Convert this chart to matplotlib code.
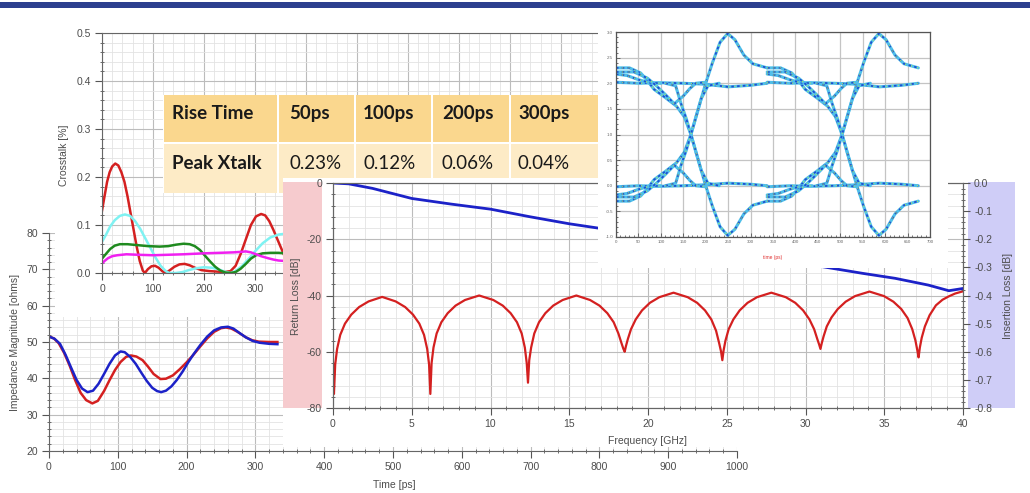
import matplotlib
matplotlib.use("Agg")
import matplotlib.pyplot as plt
from matplotlib.patches import Rectangle
from matplotlib.ticker import MultipleLocator, FormatStrFormatter

W, H = 1030, 493

# ---- crosstalk [%] vs time [ps], one curve per rise time ----
xt_red_t = [0, 5, 10, 15, 20, 26, 32, 38, 44, 50, 56, 62, 68, 74, 80, 84, 90, 97, 104, 111, 118, 124,
            132, 142, 152, 162, 172, 182, 195, 210, 225, 240, 252, 262, 272, 282, 292, 302, 312, 320,
            328, 336, 346, 356]
xt_red_v = [0.13, 0.16, 0.19, 0.21, 0.222, 0.228, 0.224, 0.21, 0.19, 0.16, 0.125, 0.09, 0.055, 0.025,
            0.005, 0.0, 0.008, 0.014, 0.015, 0.011, 0.004, 0.0, 0.005, 0.013, 0.018, 0.019, 0.016, 0.011,
            0.006, 0.004, 0.003, 0.002, 0.004, 0.015, 0.04, 0.07, 0.1, 0.118, 0.123, 0.12, 0.108, 0.09,
            0.065, 0.04]
xt_cyan_t = [0, 8, 16, 25, 35, 45, 55, 65, 75, 85, 95, 105, 115, 125, 132, 145, 158, 170, 185, 200,
             215, 228, 240, 252, 262, 275, 288, 300, 315, 330, 346, 360]
xt_cyan_v = [0.065, 0.08, 0.097, 0.11, 0.119, 0.122, 0.119, 0.108, 0.092, 0.072, 0.052, 0.032, 0.015,
             0.004, 0.0, 0.0, 0.002, 0.006, 0.01, 0.012, 0.011, 0.008, 0.003, 0.0, 0.004, 0.015, 0.03,
             0.045, 0.062, 0.074, 0.08, 0.082]
xt_green_t = [0, 8, 16, 25, 35, 50, 70, 90, 113, 130, 145, 160, 172, 182, 192, 202, 212, 222, 232, 242,
              252, 262, 272, 282, 292, 302, 315, 330, 346, 360]
xt_green_v = [0.03, 0.04, 0.05, 0.057, 0.06, 0.06, 0.058, 0.056, 0.055, 0.056, 0.059, 0.061, 0.06, 0.056,
              0.048, 0.036, 0.024, 0.013, 0.005, 0.001, 0.0, 0.002, 0.009, 0.019, 0.03, 0.037, 0.041,
              0.042, 0.042, 0.041]
xt_mag_t = [0, 6, 12, 20, 30, 48, 70, 100, 130, 160, 200, 230, 258, 272, 282, 292, 302, 312, 325, 336,
            346, 360]
xt_mag_v = [0.02, 0.026, 0.031, 0.035, 0.037, 0.039, 0.038, 0.037, 0.038, 0.039, 0.041, 0.042, 0.043,
            0.044, 0.045, 0.043, 0.039, 0.035, 0.031, 0.028, 0.026, 0.025]

# ---- impedance [ohms] vs time [ps] ----
z_red_t = [0, 7, 14, 22, 30, 38, 46, 54, 63, 71, 80, 88, 96, 104, 112, 119, 127, 136, 144, 152, 162,
           170, 180, 190, 200, 210, 220, 230, 240, 250, 257, 265, 274, 286, 295, 305, 320, 332]
z_red_v = [51.5, 51, 49.7, 47, 43.5, 39.5, 36, 34, 33.1, 33.8, 36.5, 39.5, 42.3, 44.5, 45.9, 46.3, 46,
           45, 43.2, 41.2, 39.8, 39.9, 40.8, 42.5, 44.4, 46.5, 48.8, 51, 52.8, 53.8, 54, 53.7, 52.8,
           51.3, 50.5, 50.1, 50.0, 50.0]
z_blue_t = [0, 8, 16, 24, 32, 40, 48, 56, 64, 72, 80, 88, 96, 104, 110, 118, 126, 134, 142, 150, 157,
            163, 170, 178, 186, 194, 202, 210, 220, 230, 240, 250, 260, 268, 276, 286, 296, 306, 320, 332]
z_blue_v = [51.5, 50.9, 49.5, 46.5, 43, 39.6, 37.2, 36.2, 36.6, 38.5, 41.2, 44, 46.3, 47.4, 47.2, 45.9,
            44, 41.6, 39.3, 37.4, 36.5, 36.2, 36.6, 37.8, 39.6, 41.8, 44.3, 46.6, 49.2, 51.5, 53.2, 54.0,
            54.2, 53.7, 52.6, 51.3, 50.3, 49.8, 49.5, 49.4]

# ---- return loss [dB] / insertion loss [dB] vs frequency [GHz] ----
rl_f = [0.0, 0.06, 0.14, 0.26, 0.46, 0.76, 1.16, 1.66, 2.26, 3.12, 3.98, 4.58, 5.08, 5.48, 5.78, 5.98, 6.10, 6.18,
        6.26, 6.38, 6.58, 6.88, 7.28, 7.78, 8.38, 9.28, 10.18, 10.78, 11.28, 11.68, 11.98, 12.18, 12.30, 12.38,
        12.46, 12.58, 12.78, 13.08, 13.48, 13.98, 14.58, 15.45, 16.32, 16.92, 17.42, 17.82, 18.12, 18.32, 18.44, 18.52,
        18.60, 18.72, 18.92, 19.22, 19.62, 20.12, 20.72, 21.62, 22.52, 23.12, 23.62, 24.02, 24.32, 24.52, 24.64, 24.72,
        24.80, 24.92, 25.12, 25.42, 25.82, 26.32, 26.92, 27.83, 28.75, 29.35, 29.85, 30.25, 30.55, 30.75, 30.87, 30.95,
        31.03, 31.15, 31.35, 31.65, 32.05, 32.55, 33.15, 34.06, 34.98, 35.58, 36.08, 36.48, 36.78, 36.98, 37.10, 37.18,
        37.26, 37.38, 37.58, 37.88, 38.28, 38.7, 39.1, 39.5, 40.0]
rl_db = [-64, -75, -64.5, -59, -54, -50, -46.8, -44.1, -42.1, -40.5, -42.1, -44.1, -46.8, -50, -54, -59, -64.5, -75,
         -64, -58.5, -53.5, -49.5, -46.3, -43.6, -41.6, -40, -41.6, -43.6, -46.3, -49.5, -53.5, -58.5, -64, -71,
         -63, -58.5, -53.5, -49.5, -46.3, -43.6, -41.6, -40, -41.6, -43.6, -46.3, -49.5, -53.5, -57, -59, -60,
         -58, -55.5, -52, -48.5, -45.3, -42.6, -40.6, -39, -40.6, -42.6, -45.3, -48.5, -52.5, -57, -60, -63,
         -59.5, -56, -52, -48.5, -45.3, -42.6, -40.6, -39, -40.6, -42.6, -45.3, -48.5, -52, -55.5, -57.5, -59,
         -57, -54.5, -51, -47.8, -44.8, -42.2, -40.2, -38.6, -40.2, -42.2, -44.8, -48, -52, -56, -59.5, -62,
         -58.5, -55, -51, -47, -43.5, -41.5, -40.3, -39.3, -38.5]
il_f = [0, 1, 2.5, 5, 7.5, 10, 12.5, 15, 16.8, 20, 25, 28, 30.8, 33.6, 35.7, 37.8, 39.1, 40]
il_db = [0, -0.003, -0.019, -0.055, -0.075, -0.093, -0.12, -0.145, -0.16, -0.19, -0.24, -0.268,
         -0.295, -0.321, -0.339, -0.363, -0.383, -0.375]

# ---- eye diagram traces (one unit interval pair, repeated) ----
eye_period = 337
eye_offsets = [0, eye_period]
eye_edge_x = [0, 30, 55, 70, 85, 110, 135, 152, 167, 180, 190, 200, 215, 232, 249, 265, 285, 305, 337]
eye_fall_os = [2.3, 2.3, 2.2, 2.05, 1.88, 1.72, 1.55, 1.35, 1.0, 0.6, 0.3, 0.0, -0.4, -0.8, -0.97, -0.85, -0.55, -0.38, -0.3]
eye_rise_os = [-0.3, -0.3, -0.2, -0.05, 0.12, 0.28, 0.45, 0.65, 1.0, 1.4, 1.7, 2.0, 2.4, 2.8, 2.97, 2.85, 2.55, 2.38, 2.3]
eye_flat_x = [0, 50, 100, 150, 200, 250, 300, 337]
eye_hi_flat = [2.02, 2.0, 2.01, 2.0, 1.98, 1.93, 1.96, 2.0]
eye_lo_flat = [-0.02, 0.0, -0.01, 0.0, 0.02, 0.05, 0.03, 0.0]
eye_settle_x = [0, 25, 50, 75, 100]
eye_hi_settle = [2.18, 2.15, 2.07, 2.01, 2.0]
eye_lo_settle = [-0.18, -0.15, -0.07, -0.01, 0.0]
eye_runt_x = [0, 40, 70, 90, 110, 130, 150, 165, 178, 200]
eye_hi_runt = [2.22, 2.22, 2.1, 1.95, 1.78, 1.6, 1.75, 1.9, 2.0, 2.02]
eye_lo_runt = [-0.22, -0.22, -0.1, 0.05, 0.22, 0.4, 0.25, 0.1, 0.0, -0.02]
eye_step_x = [110, 133, 145, 157, 167, 177, 190, 205, 230]
eye_hi_step = [2.0, 1.95, 1.6, 1.3, 1.0, 0.7, 0.3, 0.05, 0.0]
eye_lo_step = [0.0, 0.05, 0.4, 0.7, 1.0, 1.3, 1.7, 1.95, 2.0]

# ---- table ----
tbl_head = ["Rise Time", "50ps", "100ps", "200ps", "300ps"]
tbl_row = ["Peak Xtalk", "0.23%", "0.12%", "0.06%", "0.04%"]

plt.rcParams["font.family"] = ["Liberation Sans", "DejaVu Sans"]
plt.rcParams["axes.unicode_minus"] = False

fig = plt.figure(figsize=(W / 100, H / 100), dpi=100)
fig.patch.set_facecolor("white")

GRID_MIN = "#e3e3e3"
GRID_MAJ = "#bcbcbc"
TXT = "#4d4d4d"
RED = "#d42020"
BLUE = "#1c22c8"


def box(x0, y0, x1, y1):
    return [x0 / W, 1 - y1 / H, (x1 - x0) / W, (y1 - y0) / H]


def panel(x0, y0, x1, y1):
    ax = fig.add_axes(box(x0, y0, x1, y1))
    ax.set_xlim(x0, x1)
    ax.set_ylim(y1, y0)
    ax.set_xticks([])
    ax.set_yticks([])
    for s in ax.spines.values():
        s.set_visible(False)
    ax.set_facecolor("white")
    return ax


def label(x, y, s, **kw):
    kw.setdefault("fontsize", 7.5)
    kw.setdefault("color", TXT)
    fig.text(x / W, 1 - y / H, s, ha="center", va="center", **kw)


def tidy(ax, xmaj, xmin, ymaj, ymin, size=7.5):
    ax.xaxis.set_major_locator(MultipleLocator(xmaj))
    ax.xaxis.set_minor_locator(MultipleLocator(xmin))
    ax.yaxis.set_major_locator(MultipleLocator(ymaj))
    ax.yaxis.set_minor_locator(MultipleLocator(ymin))
    ax.grid(which="minor", color=GRID_MIN, lw=0.6)
    ax.grid(which="major", color=GRID_MAJ, lw=0.8)
    ax.set_axisbelow(True)
    ax.tick_params(which="major", length=5, width=0.8, color="#555555",
                   labelsize=size, labelcolor=TXT, pad=3)
    ax.tick_params(which="minor", length=3.5, width=0.6, color="#555555", direction="inout")
    for s in ax.spines.values():
        s.set_color("#666666")
        s.set_linewidth(0.8)


# impedance chart (back layer)
az = fig.add_axes(box(49, 233, 737, 451))
az.set_xlim(0, 1000)
az.set_ylim(20, 80)
tidy(az, 100, 20, 10, 2)
az.spines["top"].set_visible(False)
az.spines["right"].set_visible(False)
az.plot(z_red_t, z_red_v, color=RED, lw=1.8, solid_joinstyle="round")
az.plot(z_blue_t, z_blue_v, color=BLUE, lw=1.8, solid_joinstyle="round")
label(15, 342, "Impedance Magnitude [ohms]", rotation=90)
label(394, 485, "Time [ps]")

# crosstalk chart
panel(55, 20, 620, 317)
ax_x = fig.add_axes(box(102, 33, 612, 273))
ax_x.set_xlim(0, 1000)
ax_x.set_ylim(0, 0.5)
tidy(ax_x, 100, 20, 0.1, 0.02)
ax_x.yaxis.set_major_formatter(FormatStrFormatter("%.1f"))
# only the first labels peek out from under the loss chart
ax_x.set_xticks(range(0, 1001, 100))
ax_x.set_xticklabels(["0", "100", "200", "300"] + [""] * 7)
ax_x.spines["right"].set_visible(False)
for t, v, c in [(xt_red_t, xt_red_v, RED), (xt_cyan_t, xt_cyan_v, "#7ff2f2"),
                (xt_green_t, xt_green_v, "#1f8a1f"), (xt_mag_t, xt_mag_v, "#f020f0")]:
    ax_x.plot(t, v, color=c, lw=1.8, solid_joinstyle="round")
label(64, 155, "Crosstalk [%]", rotation=90)

# rise time table
tb = panel(163, 95, 620, 193)
col_edges = [163, 278, 355, 432, 510, 620]
text_x = [172, 289, 363, 442, 518]
for i in range(5):
    x0, x1 = col_edges[i], col_edges[i + 1]
    tb.add_patch(Rectangle((x0 + 1, 95), x1 - x0 - 2, 47, color="#fad78e", lw=0))
    tb.add_patch(Rectangle((x0 + 1, 144), x1 - x0 - 2, 49, color="#fdebc6", lw=0))
    tb.text(text_x[i], 113, tbl_head[i], family="Lato", weight="bold", fontsize=13.5,
            color="#1a1a1a", va="center")
    tb.text(text_x[i], 163, tbl_row[i], family="Lato", weight="bold" if i == 0 else "normal",
            fontsize=13.5, color="#1a1a1a", va="center")

# return / insertion loss chart
rp = panel(283, 178, 1015, 447)
rp.add_patch(Rectangle((283, 182), 39, 226, color="#f6cbce", lw=0))
rp.add_patch(Rectangle((968, 182), 47, 226, color="#cfcdf7", lw=0))
ar = fig.add_axes(box(333, 183, 963, 408))
ar.set_facecolor("none")
ar.set_xlim(0, 40)
ar.set_ylim(-80, 0)
tidy(ar, 5, 1, 20, 4)
ar.plot(rl_f, rl_db, color=RED, lw=1.6, solid_joinstyle="round")
ai = ar.twinx()
ai.set_ylim(-0.8, 0)
ai.yaxis.set_major_locator(MultipleLocator(0.1))
ai.yaxis.set_minor_locator(MultipleLocator(0.02))
ai.yaxis.set_major_formatter(FormatStrFormatter("%.1f"))
ai.tick_params(which="major", length=5, width=0.8, color="#555555", labelsize=7.5,
               labelcolor=TXT, pad=3)
ai.tick_params(which="minor", length=3.5, width=0.6, color="#555555", direction="inout")
for s in ai.spines.values():
    s.set_color("#666666")
    s.set_linewidth(0.8)
ai.plot(il_f, il_db, color=BLUE, lw=2.0, solid_joinstyle="round")
label(296, 296, "Return Loss [dB]", rotation=90)
label(648, 441, "Frequency [GHz]")
label(1008, 296, "Insertion Loss [dB]", rotation=90)

# eye diagram (top layer)
panel(598, 22, 948, 268)
ae = fig.add_axes(box(616, 32, 930, 237))
ae.set_xlim(0, 700)
ae.set_ylim(-1.0, 3.0)
ae.xaxis.set_major_locator(MultipleLocator(50))
ae.xaxis.set_minor_locator(MultipleLocator(10))
ae.yaxis.set_major_locator(MultipleLocator(0.5))
ae.yaxis.set_minor_locator(MultipleLocator(0.1))
ae.yaxis.set_major_formatter(FormatStrFormatter("%.1f"))
ae.grid(which="major", color="#c4c4c4", lw=0.9)
ae.set_axisbelow(True)
ae.tick_params(which="both", direction="in", color="#555555", width=0.6, labelsize=3.2,
               labelcolor="#666666", pad=2)
ae.tick_params(which="major", length=3)
ae.tick_params(which="minor", length=1.5)
for s in ae.spines.values():
    s.set_color("#555555")
    s.set_linewidth(0.9)

eye_traces = [(eye_edge_x, eye_fall_os), (eye_edge_x, eye_rise_os),
              (eye_flat_x, eye_hi_flat), (eye_flat_x, eye_lo_flat),
              (eye_settle_x, eye_hi_settle), (eye_settle_x, eye_lo_settle),
              (eye_runt_x, eye_hi_runt), (eye_runt_x, eye_lo_runt),
              (eye_step_x, eye_hi_step), (eye_step_x, eye_lo_step)]
for off in eye_offsets:
    for tx, ty in eye_traces:
        xs = [v + off for v in tx]
        ae.plot(xs, ty, color="#4fbfe9", lw=2.2, solid_capstyle="round", solid_joinstyle="round")
        ae.plot(xs, ty, color="#1f4fd0", lw=1.3, dashes=(1.4, 1.8))
        ae.plot(xs, ty, color="#a9e667", lw=1.0, dashes=(0.7, 3.8))
label(773, 258, "time (ps)", fontsize=3.5, color="#e03030")

# header bar
fig.add_artist(Rectangle((0, 1 - 7.5 / H), 1, 5.5 / H, transform=fig.transFigure,
                         color="#2c3f8f", lw=0, zorder=10))

fig.savefig("out.png", dpi=100)
